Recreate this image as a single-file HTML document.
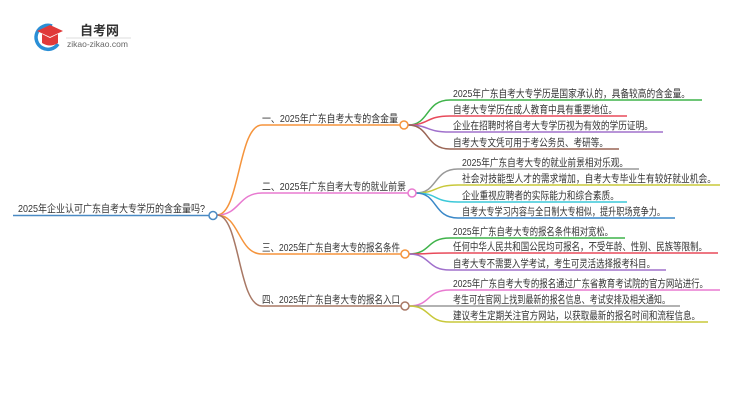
<!DOCTYPE html>
<html><head><meta charset="utf-8"><style>
html,body{margin:0;padding:0;background:#fff;}
svg{display:block;}
text{font-family:"Liberation Sans","Noto Sans CJK SC",sans-serif;font-size:10.5px;fill:#333;}
</style></head><body>
<svg width="750" height="410" viewBox="0 0 750 410" xmlns="http://www.w3.org/2000/svg">
<path d="M52 26 A12 12 0 1 0 58 44" fill="none" stroke="#2a8fd6" stroke-width="3.5"/>
<path d="M37 31 L50 25 L63 31 L50 37 Z" fill="#e03a3a"/>
<path d="M42 34 L42 43 Q50 48 58 43 L58 34 L50 38 Z" fill="#e03a3a"/>
<text x="80" y="35" style="font-size:13px;font-weight:bold;fill:#333">自考网</text>
<line x1="66" y1="38" x2="131" y2="38" stroke="#ddd" stroke-width="1"/>
<text x="67" y="47" style="font-size:8.5px;fill:#666">zikao-zikao.com</text>

<line x1="13" y1="215.5" x2="209" y2="215.5" stroke="#4a8ac4" stroke-width="1.5"/>
<text x="18" y="212" textLength="187" lengthAdjust="spacingAndGlyphs">2025年企业认可广东自考大专学历的含金量吗?</text>

<g fill="none" stroke-width="1.5">
<path d="M217 215 C240 215 238 125 262 125 L400 125" stroke="#f5943c"/>
<path d="M217 215 C240 215 238 193 262 193 L408 193" stroke="#e87ad0"/>
<path d="M217 215 C240 215 238 254 262 254 L401 254" stroke="#f5943c"/>
<path d="M217 215 C240 215 238 306 262 306 L401 306" stroke="#a87865"/>
</g>
<circle cx="213" cy="215.5" r="4" fill="#fff" stroke="#4a8ac4" stroke-width="1.5"/>

<text x="262" y="122" textLength="136" lengthAdjust="spacingAndGlyphs">一、2025年广东自考大专的含金量</text>
<text x="262" y="190" textLength="144" lengthAdjust="spacingAndGlyphs">二、2025年广东自考大专的就业前景</text>
<text x="262" y="251" textLength="138" lengthAdjust="spacingAndGlyphs">三、2025年广东自考大专的报名条件</text>
<text x="262" y="303" textLength="138" lengthAdjust="spacingAndGlyphs">四、2025年广东自考大专的报名入口</text>

<g fill="none" stroke-width="1.5">
<path d="M408 125 C430 125 425 100 450 100 L702 100" stroke="#3fb34a"/>
<path d="M408 125 C430 125 425 116 450 116 L627 116" stroke="#e84a5a"/>
<path d="M408 125 C430 125 425 132 450 132 L663 132" stroke="#a070cc"/>
<path d="M408 125 C430 125 425 149 450 149 L619 149" stroke="#9a6555"/>
<path d="M416 193 C438 193 433 169 458 169 L639 169" stroke="#999"/>
<path d="M416 193 C438 193 433 185 458 185 L720 185" stroke="#c8c83a"/>
<path d="M416 193 C438 193 433 202 458 202 L627 202" stroke="#3cc8d8"/>
<path d="M416 193 C438 193 433 218 458 218 L675 218" stroke="#3a88c8"/>
<path d="M409 254 C431 254 426 238 450 238 L625 238" stroke="#3fb34a"/>
<path d="M409 254 C431 254 426 253 450 253 L718 253" stroke="#e84a5a"/>
<path d="M409 254 C431 254 426 270 450 270 L666 270" stroke="#a070cc"/>
<path d="M409 306 C431 306 426 290 450 290 L720 290" stroke="#e87ad0"/>
<path d="M409 306 C431 306 426 306 450 306 L680 306" stroke="#999"/>
<path d="M409 306 C431 306 426 322 450 322 L708 322" stroke="#c8c83a"/>
</g>
<circle cx="404" cy="125" r="4" fill="#fff" stroke="#f5943c" stroke-width="1.5"/>
<circle cx="412" cy="193" r="4" fill="#fff" stroke="#e87ad0" stroke-width="1.5"/>
<circle cx="405" cy="254" r="4" fill="#fff" stroke="#f5943c" stroke-width="1.5"/>
<circle cx="405" cy="306" r="4" fill="#fff" stroke="#a87865" stroke-width="1.5"/>

<text x="453" y="97" textLength="237" lengthAdjust="spacingAndGlyphs">2025年广东自考大专学历是国家承认的，具备较高的含金量。</text>
<text x="453" y="113" textLength="164" lengthAdjust="spacingAndGlyphs">自考大专学历在成人教育中具有重要地位。</text>
<text x="453" y="129" textLength="200" lengthAdjust="spacingAndGlyphs">企业在招聘时将自考大专学历视为有效的学历证明。</text>
<text x="453" y="146" textLength="155" lengthAdjust="spacingAndGlyphs">自考大专文凭可用于考公务员、考研等。</text>
<text x="462" y="166" textLength="166" lengthAdjust="spacingAndGlyphs">2025年广东自考大专的就业前景相对乐观。</text>
<text x="462" y="182" textLength="254" lengthAdjust="spacingAndGlyphs">社会对技能型人才的需求增加，自考大专毕业生有较好就业机会。</text>
<text x="462" y="199" textLength="157" lengthAdjust="spacingAndGlyphs">企业重视应聘者的实际能力和综合素质。</text>
<text x="462" y="215" textLength="203" lengthAdjust="spacingAndGlyphs">自考大专学习内容与全日制大专相似，提升职场竞争力。</text>
<text x="453" y="235" textLength="160" lengthAdjust="spacingAndGlyphs">2025年广东自考大专的报名条件相对宽松。</text>
<text x="453" y="250" textLength="254" lengthAdjust="spacingAndGlyphs">任何中华人民共和国公民均可报名，不受年龄、性别、民族等限制。</text>
<text x="453" y="267" textLength="202" lengthAdjust="spacingAndGlyphs">自考大专不需要入学考试，考生可灵活选择报考科目。</text>
<text x="453" y="287" textLength="255" lengthAdjust="spacingAndGlyphs">2025年广东自考大专的报名通过广东省教育考试院的官方网站进行。</text>
<text x="453" y="303" textLength="217" lengthAdjust="spacingAndGlyphs">考生可在官网上找到最新的报名信息、考试安排及相关通知。</text>
<text x="453" y="319" textLength="247" lengthAdjust="spacingAndGlyphs">建议考生定期关注官方网站，以获取最新的报名时间和流程信息。</text>
</svg>
</body></html>
